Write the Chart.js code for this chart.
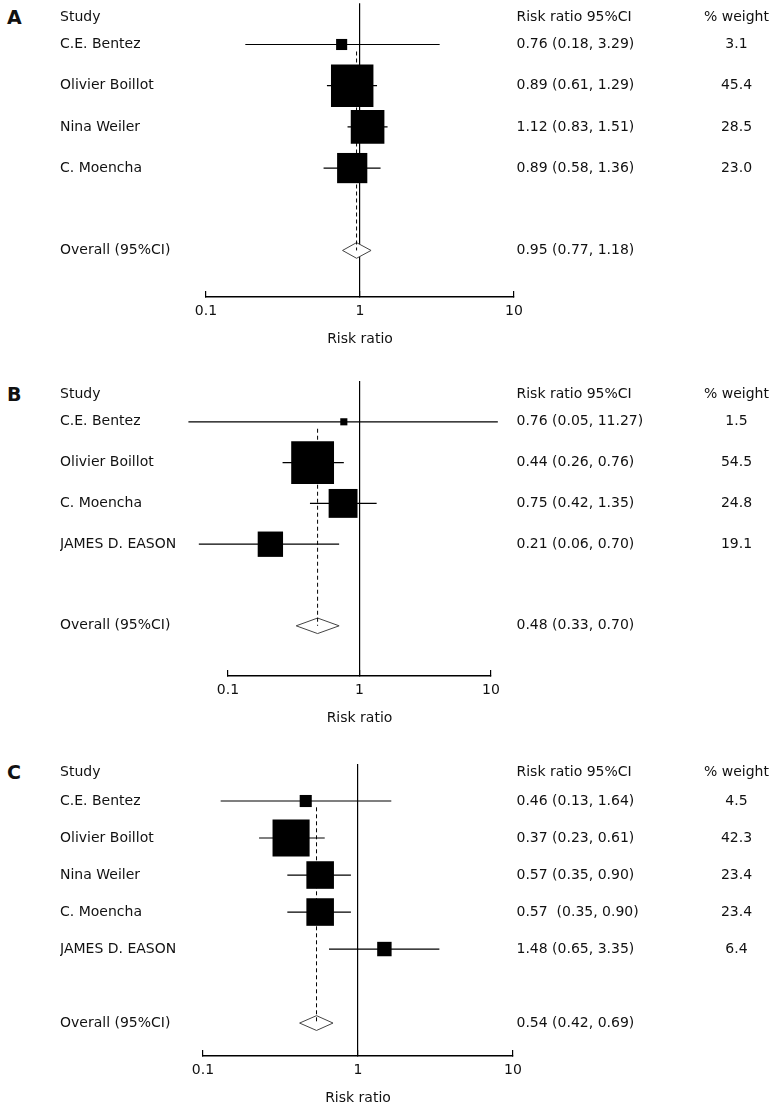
<!DOCTYPE html>
<html>
<head>
<meta charset="utf-8">
<script src="https://cdn.jsdelivr.net/npm/chart.js"></script>
<style>
  body { margin: 0; background: #fff; }
  #wrap { position: relative; width: 780px; height: 1114px; }
  canvas { position: absolute; left: 0; }
  .lab { position: absolute; left: 7px; font: bold 19px 'DejaVu Sans', sans-serif; line-height: 22px; color: #111; }
</style>
</head>
<body>
<div id="wrap">
  <div class="lab" style="top:6px">A</div>
  <div class="lab" style="top:383px">B</div>
  <div class="lab" style="top:761px">C</div>
  <canvas id="cA" width="780" height="353" style="top:0px"></canvas>
  <canvas id="cB" width="780" height="355" style="top:377px"></canvas>
  <canvas id="cC" width="780" height="352" style="top:760px"></canvas>
</div>
<script>
// x axis
var xTicks = [0.1, 1, 10];
var xTickLabels = ['0.1', '1', '10'];

// panel A
var studiesA = ['C.E. Bentez', 'Olivier Boillot', 'Nina Weiler', 'C. Moencha'];
var rrA = [0.76, 0.89, 1.12, 0.89];
var loA = [0.18, 0.61, 0.83, 0.58];
var hiA = [3.29, 1.29, 1.51, 1.36];
var weightA = [3.1, 45.4, 28.5, 23.0];
var ciTextA = ['0.76 (0.18, 3.29)', '0.89 (0.61, 1.29)', '1.12 (0.83, 1.51)', '0.89 (0.58, 1.36)'];
var overallA = [0.95, 0.77, 1.18];
var overallTextA = '0.95 (0.77, 1.18)';

// panel B
var studiesB = ['C.E. Bentez', 'Olivier Boillot', 'C. Moencha', 'JAMES D. EASON'];
var rrB = [0.76, 0.44, 0.75, 0.21];
var loB = [0.05, 0.26, 0.42, 0.06];
var hiB = [11.27, 0.76, 1.35, 0.70];
var weightB = [1.5, 54.5, 24.8, 19.1];
var ciTextB = ['0.76 (0.05, 11.27)', '0.44 (0.26, 0.76)', '0.75 (0.42, 1.35)', '0.21 (0.06, 0.70)'];
var overallB = [0.48, 0.33, 0.70];
var overallTextB = '0.48 (0.33, 0.70)';

// panel C
var studiesC = ['C.E. Bentez', 'Olivier Boillot', 'Nina Weiler', 'C. Moencha', 'JAMES D. EASON'];
var rrC = [0.46, 0.37, 0.57, 0.57, 1.48];
var loC = [0.13, 0.23, 0.35, 0.35, 0.65];
var hiC = [1.64, 0.61, 0.90, 0.90, 3.35];
var weightC = [4.5, 42.3, 23.4, 23.4, 6.4];
var ciTextC = ['0.46 (0.13, 1.64)', '0.37 (0.23, 0.61)', '0.57 (0.35, 0.90)', '0.57  (0.35, 0.90)', '1.48 (0.65, 3.35)'];
var overallC = [0.54, 0.42, 0.69];
var overallTextC = '0.54 (0.42, 0.69)';

Chart.defaults.font.family = "'DejaVu Sans', Verdana, sans-serif";
Chart.defaults.font.size = 14;
Chart.defaults.color = '#111';

function forest(id, studies, rr, lo, hi, weight, ciText, overall, overallText, p) {
  var n = studies.length;
  var ovRow = n + 2;
  var rows = [p.headerRow];
  studies.forEach(function (s, i) { rows.push(i + 1); });
  rows.push(ovRow);

  var leftLabels = ['Study'].concat(studies, ['Overall (95%CI)']);
  var midLabels = ['Risk ratio 95%CI'].concat(ciText, [overallText]);
  var rightLabels = ['% weight'].concat(weight.map(function (w) { return w.toFixed(1); }), ['']);

  function rowAxis(position, labels, width, extraTicks) {
    return {
      type: 'linear', position: position, reverse: true, min: 0, max: p.yMax,
      grid: { display: false, drawTicks: false },
      border: { display: false },
      afterBuildTicks: function (s) { s.ticks = rows.map(function (v) { return { value: v }; }); },
      afterFit: function (s) { s.width = width; s.paddingTop = 0; s.paddingBottom = 0; },
      ticks: Object.assign({
        autoSkip: false, color: '#111', font: { size: 14 },
        callback: function (v, i) { return labels[i]; }
      }, extraTicks)
    };
  }

  var datasets = [];
  // squares
  datasets.push({
    data: rr.map(function (v, i) { return { x: v, y: i + 1 }; }),
    pointStyle: 'rect',
    pointRadius: weight.map(function (w) { return p.sq * Math.sqrt(w) / Math.SQRT2; }),
    backgroundColor: '#000', borderWidth: 0, showLine: false
  });
  // dashed overall line
  datasets.push({
    data: [{ x: overall[0], y: 1.17 }, { x: overall[0], y: ovRow }],
    showLine: true, borderColor: '#000', borderWidth: 1, borderDash: [4, 3], pointRadius: 0
  });
  // diamond
  datasets.push({
    data: [
      { x: overall[1], y: ovRow }, { x: overall[0], y: ovRow - p.dh },
      { x: overall[2], y: ovRow }, { x: overall[0], y: ovRow + p.dh },
      { x: overall[1], y: ovRow }
    ],
    showLine: true, borderColor: '#444', borderWidth: 1, pointRadius: 0,
    fill: 'shape', backgroundColor: '#fff'
  });
  // confidence intervals
  studies.forEach(function (s, i) {
    datasets.push({
      data: [{ x: lo[i], y: i + 1 }, { x: hi[i], y: i + 1 }],
      showLine: true, borderColor: '#000', borderWidth: 1.2, pointRadius: 0
    });
  });

  return new Chart(document.getElementById(id), {
    type: 'scatter',
    data: { datasets: datasets },
    options: {
      responsive: false, animation: false, events: [],
      clip: false,
      layout: { autoPadding: false, padding: { top: p.padTop, left: 60, right: 2.5, bottom: 0 } },
      plugins: { legend: { display: false }, tooltip: { enabled: false } },
      scales: {
        x: {
          type: 'logarithmic', min: 0.1, max: 10, position: 'bottom',
          afterBuildTicks: function (s) { s.ticks = xTicks.map(function (v) { return { value: v }; }); },
          afterFit: function (s) { s.height = 56; s.paddingLeft = 0; s.paddingRight = 0; },
          ticks: {
            autoSkip: false, maxRotation: 0, padding: 12, color: '#111', font: { size: 14 },
            callback: function (v, i) { return xTickLabels[i]; }
          },
          grid: {
            drawOnChartArea: true, tickLength: -6, lineWidth: 1.2, tickColor: '#000',
            color: function (c) { return c.tick && c.tick.value === 1 ? '#000' : 'rgba(0,0,0,0)'; }
          },
          border: { display: true, color: '#000', width: 1.6 },
          title: { display: true, text: 'Risk ratio', color: '#111', font: { size: 14 }, padding: { top: 0, bottom: 5 } }
        },
        y: rowAxis('left', leftLabels, p.xLeft - 60, { crossAlign: 'far', padding: 0 }),
        rr: rowAxis('right', midLabels, 704 - p.xRight, { crossAlign: 'near', padding: 516.5 - p.xRight }),
        wt: rowAxis('right', rightLabels, 73.5, { crossAlign: 'center', padding: 0 })
      }
    }
  });
}

forest('cA', studiesA, rrA, loA, hiA, weightA, ciTextA, overallA, overallTextA,
  { padTop: 3.3, xLeft: 206, xRight: 514, yMax: 7.13, headerRow: 0.33, sq: 6.3, dh: 0.19 });
forest('cB', studiesB, rrB, loB, hiB, weightB, ciTextB, overallB, overallTextB,
  { padTop: 4, xLeft: 228, xRight: 491, yMax: 7.23, headerRow: 0.33, sq: 5.8, dh: 0.19 });
forest('cC', studiesC, rrC, loC, hiC, weightC, ciTextC, overallC, overallTextC,
  { padTop: 4, xLeft: 203, xRight: 513, yMax: 7.89, headerRow: 0.22, sq: 5.7, dh: 0.2 });
</script>
</body>
</html>
